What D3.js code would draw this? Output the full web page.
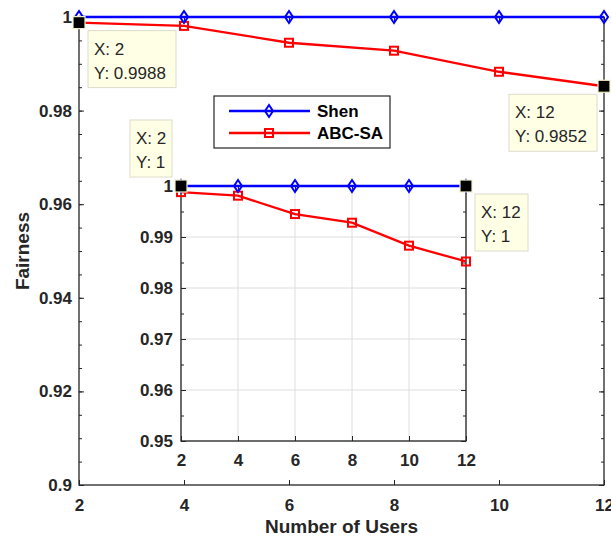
<!DOCTYPE html>
<html>
<head>
<meta charset="utf-8">
<script src="https://cdn.jsdelivr.net/npm/d3@7"></script>
<style>
  body { margin: 0; background: #fff; }
  svg { display: block; font-family: "Liberation Sans", Arial, sans-serif; }
  .tick text { fill: #262626; font-weight: bold; font-size: 17px; }
  .tick line { stroke: #262626; }
</style>
</head>
<body>
<div id="chart"></div>
<script>
// Data
const users = [2, 4, 6, 8, 10, 12];
const shen = [1, 1, 1, 1, 1, 1];
const abcsa = [0.9988, 0.9981, 0.9945, 0.9928, 0.9883, 0.9852];
const mainYTicks = [0.9, 0.92, 0.94, 0.96, 0.98, 1];
const insetYTicks = [0.95, 0.96, 0.97, 0.98, 0.99, 1];
const xTicks = [2, 4, 6, 8, 10, 12];
const seriesNames = ["Shen", "ABC-SA"];
const mainTips = [{x: 2, y: 0.9988}, {x: 12, y: 0.9852}];
const insetTips = [{x: 2, y: 1}, {x: 12, y: 1}];

const width = 611;
const height = 538;
const axisColour = "#262626";
const blue = "#0000ff";
const red = "#ff0000";

const svg = d3.select("#chart")
  .append("svg")
    .attr("width", width)
    .attr("height", height);

const fmt = d => d === 1 ? "1" : String(d);

// draws one set of axes (box, ticks, labels, grid optional)
const drawAxes = (g, xScale, yScale, yTicks, minorStep, labelPad, grid) => {
  const [x0, x1] = xScale.range();
  const [y0, y1] = yScale.range();
  const [d0, d1] = yScale.domain();
  const minor = d3.range(Math.round((d1 - d0) / minorStep) + 1).map(i => d0 + i * minorStep);

  if (grid) {
    g.append("g").selectAll("line.gx").data(xTicks).join("line")
      .attr("x1", d => xScale(d)).attr("x2", d => xScale(d))
      .attr("y1", y0).attr("y2", y1)
      .attr("stroke", "#dedede").attr("stroke-width", 1);
    g.append("g").selectAll("line.gy").data(yTicks).join("line")
      .attr("x1", x0).attr("x2", x1)
      .attr("y1", d => yScale(d)).attr("y2", d => yScale(d))
      .attr("stroke", "#dedede").attr("stroke-width", 1);
  }

  // bottom axis
  const bottom = g.append("g")
    .attr("transform", `translate(0, ${y0})`)
    .call(d3.axisBottom(xScale).tickValues(xTicks).tickFormat(d3.format("d"))
      .tickSizeInner(-5).tickSizeOuter(0).tickPadding(labelPad.x));
  bottom.select(".domain").remove();

  // top ticks
  const top = g.append("g")
    .attr("transform", `translate(0, ${y1})`)
    .call(d3.axisTop(xScale).tickValues(xTicks).tickFormat("")
      .tickSizeInner(-5).tickSizeOuter(0));
  top.select(".domain").remove();

  // left axis
  const left = g.append("g")
    .attr("transform", `translate(${x0}, 0)`)
    .call(d3.axisLeft(yScale).tickValues(yTicks).tickFormat(fmt)
      .tickSizeInner(-5).tickSizeOuter(0).tickPadding(labelPad.y));
  left.select(".domain").remove();
  const leftMinor = g.append("g")
    .attr("transform", `translate(${x0}, 0)`)
    .call(d3.axisLeft(yScale).tickValues(minor).tickFormat("")
      .tickSizeInner(-3).tickSizeOuter(0));
  leftMinor.select(".domain").remove();

  // right axis
  const right = g.append("g")
    .attr("transform", `translate(${x1}, 0)`)
    .call(d3.axisRight(yScale).tickValues(yTicks).tickFormat("")
      .tickSizeInner(-5).tickSizeOuter(0));
  right.select(".domain").remove();
  const rightMinor = g.append("g")
    .attr("transform", `translate(${x1}, 0)`)
    .call(d3.axisRight(yScale).tickValues(minor).tickFormat("")
      .tickSizeInner(-3).tickSizeOuter(0));
  rightMinor.select(".domain").remove();

  g.append("rect")
    .attr("x", x0).attr("y", y1)
    .attr("width", x1 - x0).attr("height", y0 - y1)
    .attr("fill", "none")
    .attr("stroke", axisColour)
    .attr("stroke-width", 1.3);
};

const drawSeries = (g, xScale, yScale) => {
  const line = d3.line().x((d, i) => xScale(users[i])).y(d => yScale(d));

  g.append("path").datum(abcsa)
    .attr("d", line).attr("fill", "none")
    .attr("stroke", red).attr("stroke-width", 2.3);
  g.selectAll("rect.sq").data(abcsa).join("rect")
    .attr("class", "sq")
    .attr("x", (d, i) => xScale(users[i]) - 4)
    .attr("y", d => yScale(d) - 4)
    .attr("width", 8).attr("height", 8)
    .attr("fill", "none").attr("stroke", red).attr("stroke-width", 2);

  g.append("path").datum(shen)
    .attr("d", line).attr("fill", "none")
    .attr("stroke", blue).attr("stroke-width", 2.3);
  g.selectAll("path.dia").data(shen).join("path")
    .attr("class", "dia")
    .attr("transform", (d, i) => `translate(${xScale(users[i])}, ${yScale(d)})`)
    .attr("d", "M0,-6L4,0L0,6L-4,0Z")
    .attr("fill", "none").attr("stroke", blue).attr("stroke-width", 2);
};

const drawTip = (g, px, py, d, box) => {
  g.append("rect")
    .attr("x", px + box.dx).attr("y", py + box.dy)
    .attr("width", box.w).attr("height", 57)
    .attr("fill", "#ffffe6").attr("stroke", "#dcdccc").attr("stroke-width", 1);
  g.append("text")
    .attr("x", px + box.dx + 6).attr("y", py + box.dy + 24)
    .attr("font-size", 17).attr("fill", axisColour)
    .text(`X: ${d.x}`);
  g.append("text")
    .attr("x", px + box.dx + 6).attr("y", py + box.dy + 48)
    .attr("font-size", 17).attr("fill", axisColour)
    .text(`Y: ${d.y}`);
  g.append("rect")
    .attr("x", px - 6).attr("y", py - 6)
    .attr("width", 12).attr("height", 12)
    .attr("fill", "#000").attr("stroke", "#f2f0c8").attr("stroke-width", 1.2);
};

/* Main axes */
const xMain = d3.scaleLinear().domain([2, 12]).range([79, 604]);
const yMain = d3.scaleLinear().domain([0.9, 1]).range([485, 17]);
const mainG = svg.append("g");
drawAxes(mainG, xMain, yMain, mainYTicks, 0.005, {x: 14, y: 7}, false);
drawSeries(mainG, xMain, yMain);

svg.append("text")
  .attr("x", (79 + 604) / 2).attr("y", 533)
  .attr("text-anchor", "middle")
  .attr("font-size", 19).attr("font-weight", "bold").attr("fill", axisColour)
  .text("Number of Users");
svg.append("text")
  .attr("transform", `translate(29, ${(17 + 485) / 2}) rotate(-90)`)
  .attr("text-anchor", "middle")
  .attr("font-size", 19).attr("font-weight", "bold").attr("fill", axisColour)
  .text("Fairness");

/* Legend */
const legend = svg.append("g");
legend.append("rect")
  .attr("x", 214).attr("y", 96).attr("width", 176).attr("height", 52)
  .attr("fill", "#fff").attr("stroke", "#262626").attr("stroke-width", 1.2);
const legendRows = [{name: seriesNames[0], colour: blue, y: 111}, {name: seriesNames[1], colour: red, y: 133}];
legendRows.forEach((r, i) => {
  legend.append("line")
    .attr("x1", 229).attr("x2", 310).attr("y1", r.y).attr("y2", r.y)
    .attr("stroke", r.colour).attr("stroke-width", 2.3);
  if (i === 0) {
    legend.append("path").attr("transform", `translate(269, ${r.y})`)
      .attr("d", "M0,-6L4,0L0,6L-4,0Z")
      .attr("fill", "none").attr("stroke", r.colour).attr("stroke-width", 2);
  } else {
    legend.append("rect").attr("x", 265).attr("y", r.y - 4).attr("width", 8).attr("height", 8)
      .attr("fill", "none").attr("stroke", r.colour).attr("stroke-width", 2);
  }
  legend.append("text")
    .attr("x", 317).attr("y", r.y + 6)
    .attr("font-size", 17).attr("font-weight", "bold").attr("fill", "#000")
    .text(r.name);
});

/* Inset axes */
const xIn = d3.scaleLinear().domain([2, 12]).range([181, 466]);
const yIn = d3.scaleLinear().domain([0.95, 1]).range([441, 186]);
const insetG = svg.append("g");
insetG.append("rect")
  .attr("x", 181).attr("y", 186).attr("width", 285).attr("height", 255)
  .attr("fill", "#fff");
drawAxes(insetG, xIn, yIn, insetYTicks, 0.005, {x: 13, y: 8}, true);
drawSeries(insetG, xIn, yIn);

/* Data tips */
const mainBoxes = [{dx: 9, dy: 8, w: 88}, {dx: -95, dy: 8, w: 88}];
mainTips.forEach((d, i) => drawTip(svg, xMain(d.x), yMain(d.y), d, mainBoxes[i]));
const insetBoxes = [{dx: -51, dy: -66, w: 42}, {dx: 9, dy: 8, w: 53}];
insetTips.forEach((d, i) => drawTip(svg, xIn(d.x), yIn(d.y), d, insetBoxes[i]));
</script>
</body>
</html>
